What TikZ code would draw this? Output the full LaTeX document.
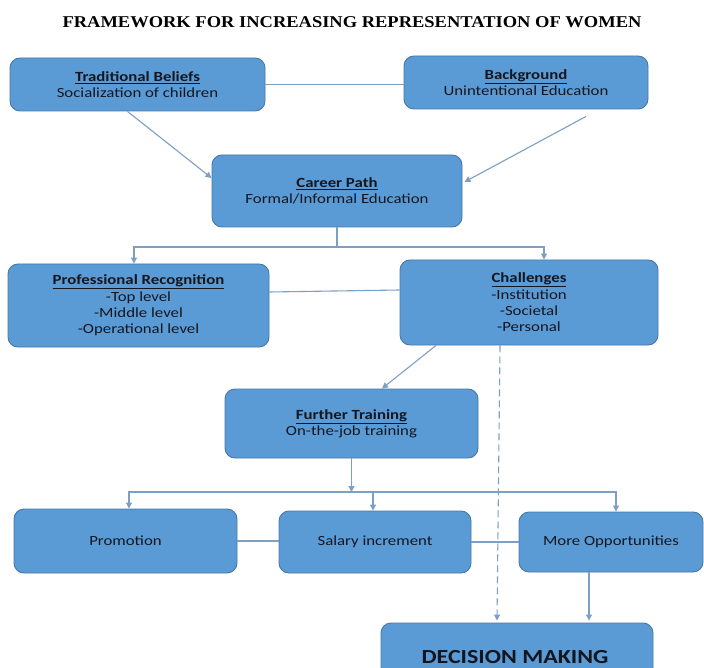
\documentclass[tikz,border=0pt]{standalone}
\usepackage{fontspec}
\setmainfont{Carlito}[FakeStretch=1.2]
\newfontfamily\titlefont{Liberation Serif}[FakeStretch=1.12]
\usetikzlibrary{arrows.meta}
\definecolor{boxfill}{HTML}{5B9BD5}
\definecolor{boxedge}{HTML}{4677A8}
\definecolor{linkc}{HTML}{7E9FC4}
\definecolor{txt}{HTML}{14161F}
\begin{document}
\begin{tikzpicture}[x=1pt,y=-1pt,
  box/.style={draw=boxedge,line width=0.9pt,fill=boxfill,rounded corners=10pt,
    align=center,text=txt,inner sep=0pt,
    font=\fontsize{14}{16.3}\selectfont},
  link/.style={draw=linkc,line width=1.1pt},
  arr/.style={link,-{Triangle[width=6pt,length=6pt]}}]
\useasboundingbox (0,0) rectangle (704,668);
\clip (0,0) rectangle (704,668);
\fill[white] (0,0) rectangle (704,668);

\node[text=black,font=\titlefont\bfseries\fontsize{16.5}{18}\selectfont] (title) at (352,22) {FRAMEWORK FOR INCREASING REPRESENTATION OF WOMEN};

\node[box,minimum width=255pt,minimum height=53pt] (TB) at (137.5,84.5)
  {\textbf{\underline{Traditional Beliefs}}\\Socialization of children};
\node[box,minimum width=244pt,minimum height=53pt] (BG) at (526,82.5)
  {\textbf{\underline{Background}}\\Unintentional Education};
\node[box,minimum width=250pt,minimum height=72pt] (CP) at (337,191)
  {\textbf{\underline{Career Path}}\\Formal/Informal Education};
\node[box,minimum width=261pt,minimum height=83pt] (PR) at (138.5,305.5)
  {\textbf{\underline{Professional Recognition}}\\-Top level\\-Middle level\\-Operational level};
\node[box,minimum width=258pt,minimum height=85pt] (CH) at (529,302.5)
  {\textbf{\underline{Challenges}}\\-Institution\\-Societal\\-Personal};
\node[box,minimum width=253pt,minimum height=69pt] (FT) at (351.5,423.5)
  {\textbf{\underline{Further Training}}\\On-the-job training};
\node[box,minimum width=223pt,minimum height=64pt] (PM) at (125.5,541) {Promotion};
\node[box,minimum width=192pt,minimum height=62pt] (SI) at (375,542) {Salary increment};
\node[box,minimum width=184pt,minimum height=60pt] (MO) at (611,542) {More Opportunities};
\node[box,minimum width=272pt,minimum height=77pt,
  font=\bfseries\fontsize{20}{22}\selectfont,text depth=0pt] (DM) at (517,661.5) {};
\node[text=txt,font=\bfseries\fontsize{20}{22}\selectfont,inner sep=0pt] (DMt) at (515,657) {DECISION MAKING};

% top row
\draw[link] (TB.east) -- (TB.east -| BG.west);
\draw[arr] ([xshift=-10pt]TB.south) -- ([yshift=13pt]CP.west);
\draw[arr] ([xshift=60pt,yshift=-7pt]BG.south) -- ([xshift=2pt,yshift=9pt]CP.east);

% career path split
\coordinate (j1) at (337,247);
\draw[link] (CP.south) -- (j1);
\draw[arr] (j1) -| ([xshift=-4.5pt]PR.north);
\draw[arr] (j1) -| ([xshift=15pt]CH.north);
\draw[link] ([yshift=13.5pt]PR.east) -- ([yshift=12.5pt]CH.west);

% challenges
\draw[arr] ([xshift=-93pt]CH.south) -- ([xshift=30.5pt]FT.north);
\draw[arr,dashed,dash pattern=on 7pt off 4pt] ([xshift=-29pt]CH.south) -- ([xshift=-20pt,yshift=2pt]DM.north);

% further training split
\coordinate (j2) at (351.5,492);
\draw[arr] (FT.south) -- (j2);
\draw[link] ([xshift=3.5pt]PM.north |- j2) -- ([xshift=5pt]MO.north |- j2);
\draw[arr] (j2) -| ([xshift=3.5pt]PM.north);
\draw[arr] (j2) -| ([xshift=-2pt]SI.north);
\draw[arr] (j2) -| ([xshift=5pt]MO.north);

% bottom row
\draw[link] (PM.east) -- (PM.east -| SI.west);
\draw[link] (SI.east) -- (SI.east -| MO.west);
\draw[arr] ([xshift=-22pt]MO.south) -- ([xshift=-22pt,yshift=2pt]MO.south |- DM.north);
\end{tikzpicture}
\end{document}
